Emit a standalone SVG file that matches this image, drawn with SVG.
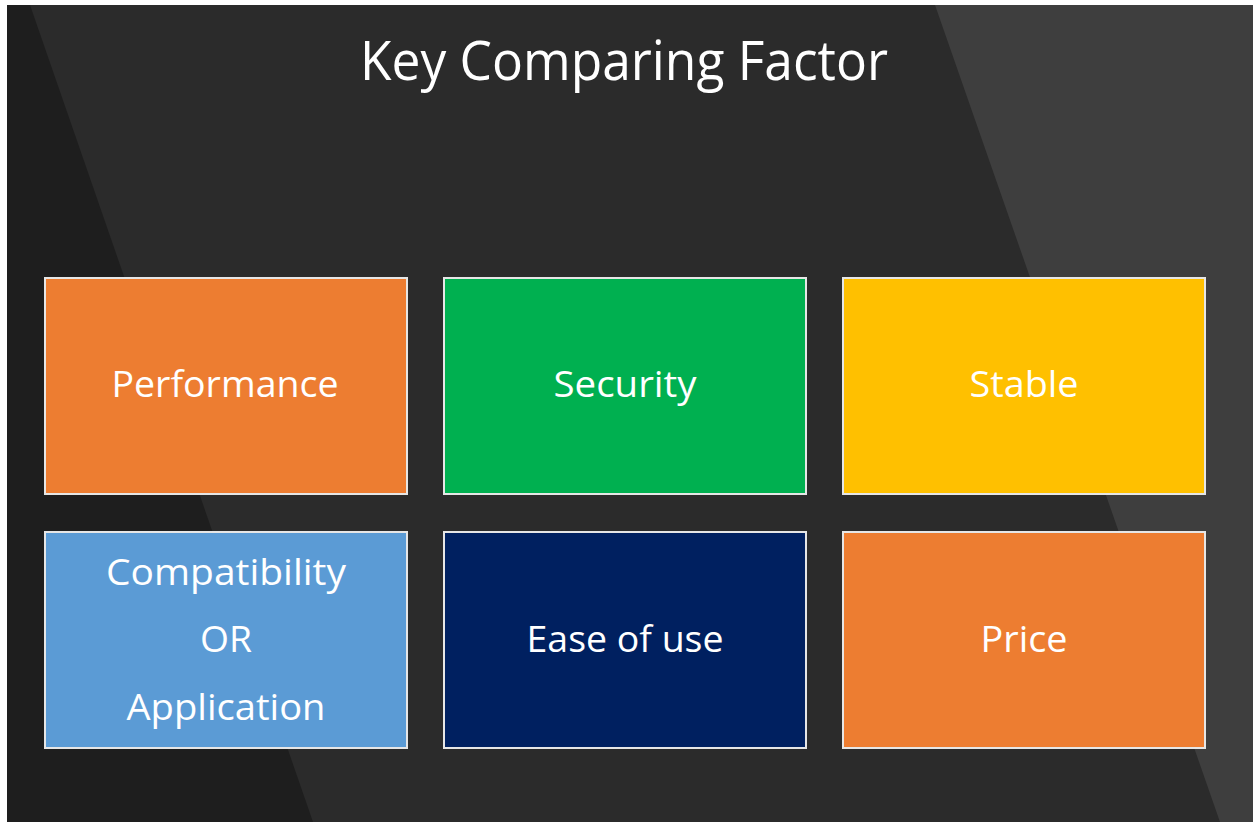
<svg xmlns="http://www.w3.org/2000/svg" width="1253" height="822" viewBox="0 0 1253 822">
<style>
.box{stroke:#e6e6e6;stroke-width:2}
.lbl{font-family:"Open Sans","Noto Sans","Liberation Sans",sans-serif;font-size:37px;fill:#ffffff;text-anchor:middle;font-variant-ligatures:none}
.title{font-family:"Open Sans","Noto Sans","Liberation Sans",sans-serif;font-size:55px;fill:#ffffff;text-anchor:middle;font-variant-ligatures:none}
</style>
<rect x="0" y="0" width="1253" height="822" fill="#ffffff"/>
<g id="background">
<rect x="7" y="5" width="1246" height="817" fill="#2b2b2b"/>
<polygon points="7,5 30,5 313,822 7,822" fill="#1e1e1e"/>
<polygon points="935,5 1253,5 1253,822 1220,822" fill="#3e3e3e"/>
</g>
<text id="title" class="title" x="624" y="80" textLength="528" lengthAdjust="spacingAndGlyphs">Key Comparing Factor</text>
<g id="connectors"></g>
<g id="performance">
<rect class="box" x="45" y="278" width="362" height="216" fill="#ed7d31"/>
<text class="lbl" x="225" y="397" textLength="227" lengthAdjust="spacingAndGlyphs">Performance</text>
</g>
<g id="security">
<rect class="box" x="444" y="278" width="362" height="216" fill="#00b050"/>
<text class="lbl" x="625" y="397" textLength="143" lengthAdjust="spacingAndGlyphs">Security</text>
</g>
<g id="stable">
<rect class="box" x="843" y="278" width="362" height="216" fill="#ffc000"/>
<text class="lbl" x="1024" y="397" textLength="109" lengthAdjust="spacingAndGlyphs">Stable</text>
</g>
<g id="compatibility">
<rect class="box" x="45" y="532" width="362" height="216" fill="#5b9bd5"/>
<text class="lbl" x="226" y="585" textLength="240" lengthAdjust="spacingAndGlyphs">Compatibility</text>
<text class="lbl" x="226" y="652" textLength="52" lengthAdjust="spacingAndGlyphs">OR</text>
<text class="lbl" x="226" y="720" textLength="199" lengthAdjust="spacingAndGlyphs">Application</text>
</g>
<g id="ease">
<rect class="box" x="444" y="532" width="362" height="216" fill="#002060"/>
<text class="lbl" x="625" y="652" textLength="197" lengthAdjust="spacingAndGlyphs">Ease of use</text>
</g>
<g id="price">
<rect class="box" x="843" y="532" width="362" height="216" fill="#ed7d31"/>
<text class="lbl" x="1024" y="652" textLength="87" lengthAdjust="spacingAndGlyphs">Price</text>
</g>
</svg>
